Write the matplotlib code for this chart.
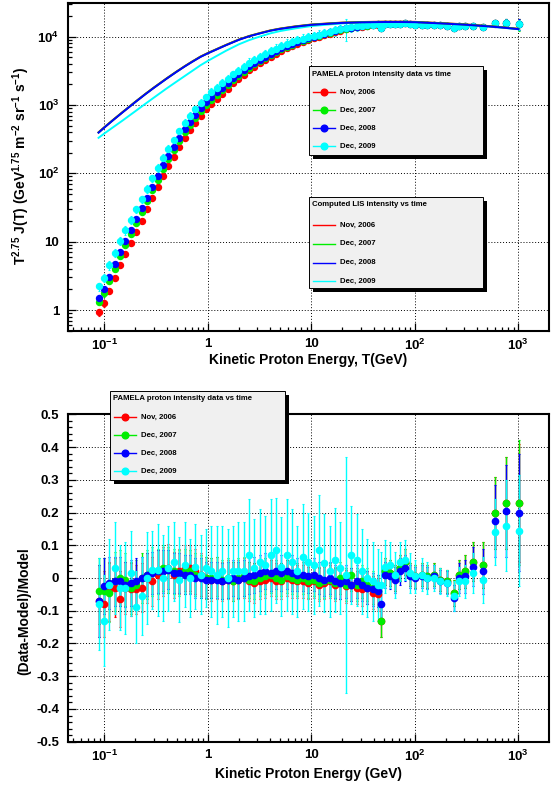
"""PAMELA proton intensity vs kinetic energy, computed LIS and fit residuals."""

import matplotlib.pyplot as plt
import numpy as np
from matplotlib.lines import Line2D
from matplotlib.patches import Rectangle
from matplotlib.ticker import FixedLocator, FuncFormatter, LogLocator, MultipleLocator

plt.rcParams["font.family"] = ["Liberation Sans", "DejaVu Sans"]
plt.rcParams["font.weight"] = "bold"
plt.rcParams["mathtext.fontset"] = "custom"
plt.rcParams["mathtext.rm"] = "Liberation Sans:bold"
plt.rcParams["mathtext.bf"] = "Liberation Sans:bold"
plt.rcParams["mathtext.it"] = "Liberation Sans:bold"
plt.rcParams["mathtext.default"] = "rm"
plt.rcParams["axes.unicode_minus"] = False

FIG_W, FIG_H = 553, 787

# ---- data -------------------------------------------------------------
labels = ["Nov, 2006", "Dec, 2007", "Dec, 2008", "Dec, 2009"]
colors = ["#ff0000", "#00ee00", "#0000ff", "#00ffff"]

energy = [
    0.088, 0.099, 0.112, 0.126, 0.142, 0.160, 0.180, 0.203, 0.229, 0.258,
    0.291, 0.328, 0.370, 0.417, 0.470, 0.530, 0.597, 0.672, 0.758, 0.854,
    0.963, 1.085, 1.223, 1.378, 1.553, 1.750, 1.973, 2.223, 2.506, 2.824,
    3.183, 3.587, 4.042, 4.556, 5.134, 5.786, 6.521, 7.349, 8.283, 9.335,
    10.52, 11.86, 13.36, 15.06, 16.97, 19.13, 21.56, 24.29, 27.38, 30.86,
    34.78, 39.19, 44.17,
    47.0, 52.0, 58.0, 65.0, 72.0, 81.0, 90.0, 101.0, 117.0, 131.0,
    152.0, 176.0, 205.0, 237.0, 265.0, 307.0, 365.0, 455.0, 590.0, 765.0, 1014.0,
]

# T^2.75 J(T) below 45 GeV, one list per period
flux_nov06 = [
    0.92, 1.25, 1.91, 2.93, 4.49, 6.55, 9.55, 13.9, 20.3, 29.6,
    43.2, 63.0, 91.6, 128, 175, 241, 331, 427, 548, 695,
    863, 1040, 1236, 1469, 1742, 2070, 2404, 2786, 3228, 3639,
    4083, 4571, 5086, 5636, 6252, 6808, 7345, 7925, 8472, 8995,
    9506, 10020, 10540, 11100, 11700, 12300, 12790, 13210, 13680, 14090,
    14390, 14690, 15000,
]
flux_dec07 = [
    1.30, 1.75, 2.65, 4.03, 6.13, 8.87, 12.8, 18.5, 26.9, 38.9,
    56.3, 81.2, 117, 161, 218, 297, 404, 515, 653, 819,
    1005, 1199, 1412, 1663, 1955, 2300, 2647, 3048, 3512, 3934,
    4389, 4882, 5396, 5946, 6558, 7121, 7653, 8234, 8769, 9283,
    9782, 10290, 10810, 11370, 11960, 12560, 13030, 13430, 13880, 14290,
    14560, 14840, 15150,
]
flux_dec08 = [
    1.50, 2.02, 3.07, 4.68, 7.12, 10.3, 14.8, 21.3, 30.7, 44.2,
    63.7, 91.6, 131, 181, 243, 330, 447, 567, 717, 894,
    1093, 1299, 1525, 1789, 2096, 2457, 2818, 3235, 3712, 4148,
    4610, 5115, 5635, 6188, 6802, 7359, 7889, 8464, 8989, 9481,
    9972, 10480, 11000, 11550, 12140, 12740, 13210, 13620, 14060, 14440,
    14720, 14980, 15300,
]
flux_dec09 = [
    2.21, 2.97, 4.50, 6.84, 10.4, 14.8, 21.1, 29.8, 42.3, 60.0,
    84.9, 120, 170, 231, 306, 410, 551, 694, 870, 1077,
    1305, 1537, 1789, 2080, 2413, 2803, 3180, 3625, 4132, 4581,
    5055, 5563, 6088, 6628, 7234, 7782, 8292, 8836, 9328, 9778,
    10250, 10740, 11250, 11790, 12370, 12940, 13380, 13750, 14170, 14530,
    14760, 15000, 15300,
]
# high-energy points (47 - 1000 GeV), common to all periods
flux_high = [
    13500, 15300, 15300, 15100, 15400, 15600, 15200, 15000, 15000, 14800,
    14800, 14600, 14400, 13600, 14200, 14100, 14400, 13900, 15700, 15900, 15200,
]

# computed LIS curves
lis_energy = [0.088, 0.1, 0.12, 0.15, 0.2, 0.25, 0.3, 0.4, 0.5, 0.6, 0.7, 0.85,
              1.0, 1.2, 1.5, 2.0, 2.5, 3.0, 4.0, 5.0, 7.0, 10.0, 15.0, 20.0, 30.0,
              50.0, 70.0, 100.0, 200.0, 300.0, 500.0, 700.0, 1000.0]
lis_nov06 = [399, 473, 597, 788, 1120, 1459, 1795, 2456, 3099, 3716, 4297, 5118,
             5768, 6527, 7590, 9108, 10221, 11031, 12346, 13156, 14168, 15079,
             15686, 16091, 16394, 16597, 16597, 16496, 15686, 15180, 14370, 13763,
             13055]
lis_dec07 = [396, 470, 594, 784, 1114, 1451, 1785, 2442, 3080, 3694, 4271, 5087,
             5734, 6489, 7545, 9054, 10161, 10965, 12273, 13078, 14084, 14989,
             15593, 15995, 16297, 16498, 16498, 16398, 15593, 15090, 14285, 13682,
             12977]
lis_dec08 = [394, 467, 590, 779, 1107, 1442, 1774, 2427, 3062, 3672, 4246, 5057,
             5700, 6450, 7500, 9000, 10100, 10900, 12200, 13000, 14000, 14900,
             15500, 15900, 16200, 16400, 16400, 16300, 15500, 15000, 14200, 13600,
             12900]
lis_dec09 = [331, 383, 466, 592, 814, 1045, 1277, 1747, 2205, 2662, 3121, 3818,
             4418, 5160, 6225, 7740, 8888, 9756, 11163, 12090, 13230, 14304,
             15113, 15614, 16038, 16351, 16350, 16250, 15450, 14950, 14150, 13550,
             12850]

# (Data-Model)/Model and its error
res_nov06 = [
    -0.07, -0.08, -0.04, -0.03, -0.065, -0.03, -0.035, -0.035, -0.03, 0.0,
    -0.01, 0.01, 0.02, 0.03, 0.01, 0.02, 0.03, 0.03, 0.02, 0.01,
    0.0, -0.005, 0.0, -0.01, -0.005, -0.01, -0.005, 0.0, -0.01, -0.015,
    -0.01, -0.005, 0.0, -0.01, -0.01, 0.0, -0.005, -0.01, -0.01, -0.015,
    -0.01, -0.02, -0.015, -0.01, -0.02, -0.015, -0.025, -0.02, -0.03, -0.035,
    -0.03, -0.045, -0.05,
    -0.13, 0.02, 0.015, 0.0, 0.03, 0.05, 0.01, 0.005, 0.01, 0.005,
    0.01, -0.005, -0.01, -0.045, 0.01, 0.02, 0.05, 0.04, 0.2, 0.23, 0.23,
]
res_dec07 = [
    -0.04, -0.04, -0.045, -0.01, 0.0, -0.005, -0.03, -0.02, 0.0, 0.01,
    0.02, 0.02, 0.03, 0.025, 0.02, 0.015, 0.02, 0.02, 0.01, 0.005,
    0.0, 0.0, 0.005, -0.005, 0.0, -0.01, 0.0, 0.005, -0.005, -0.01,
    0.0, 0.005, 0.01, 0.0, -0.005, 0.005, 0.0, -0.005, 0.0, -0.01,
    -0.005, -0.015, -0.01, -0.005, -0.015, 0.0, -0.02, 0.01, -0.02, -0.01,
    -0.02, -0.03, -0.04,
    -0.13, 0.02, 0.015, 0.0, 0.03, 0.05, 0.01, 0.005, 0.01, 0.005,
    0.01, -0.005, -0.01, -0.045, 0.01, 0.02, 0.05, 0.04, 0.2, 0.23, 0.23,
]
res_dec08 = [
    -0.07, -0.025, -0.015, -0.01, -0.01, -0.02, -0.015, -0.01, 0.0, 0.01,
    0.015, 0.02, 0.02, 0.025, 0.015, 0.015, 0.01, 0.01, 0.0, 0.0,
    -0.005, -0.005, -0.005, -0.01, -0.005, 0.0, -0.005, 0.0, 0.005, 0.01,
    0.015, 0.02, 0.015, 0.02, 0.015, 0.02, 0.015, 0.01, 0.01, 0.005,
    0.01, 0.0, -0.005, 0.0, -0.01, -0.015, -0.01, -0.02, -0.01, -0.02,
    -0.03, -0.035, -0.04,
    -0.08, 0.01, 0.005, -0.005, 0.02, 0.03, 0.005, 0.0, 0.005, 0.0,
    0.005, -0.01, -0.015, -0.06, 0.0, 0.005, 0.035, 0.02, 0.175, 0.205, 0.2,
]
res_dec09 = [
    -0.08, -0.13, -0.02, 0.03, -0.03, -0.03, 0.015, -0.09, -0.055, 0.0,
    0.025, 0.025, 0.0, 0.03, 0.05, -0.005, 0.04, 0.0, 0.035, 0.01,
    0.03, 0.02, 0.01, 0.02, 0.0, 0.02, 0.02, 0.02, 0.07, 0.03,
    0.05, 0.04, 0.07, 0.085, 0.035, 0.07, 0.05, 0.02, 0.065, 0.05,
    0.04, 0.085, 0.045, 0.02, 0.055, 0.03, 0.01, 0.07, 0.055, 0.02,
    0.0, -0.01, -0.02,
    -0.02, 0.035, 0.04, 0.01, 0.05, 0.055, 0.015, 0.005, 0.01, 0.0,
    0.0, -0.01, -0.015, -0.055, -0.01, -0.01, 0.015, -0.005, 0.14, 0.16, 0.145,
]
err_nov06 = [
    0.11, 0.10, 0.09, 0.09, 0.085, 0.08, 0.08, 0.075, 0.075, 0.075,
    0.075, 0.075, 0.075, 0.075, 0.07, 0.07, 0.07, 0.07, 0.07, 0.065,
    0.065, 0.065, 0.065, 0.06, 0.06, 0.06, 0.06, 0.06, 0.06, 0.06,
    0.055, 0.055, 0.055, 0.055, 0.055, 0.055, 0.055, 0.05, 0.05, 0.05,
    0.05, 0.05, 0.05, 0.05, 0.05, 0.05, 0.05, 0.05, 0.05, 0.05,
    0.05, 0.05, 0.05,
    0.05, 0.04, 0.04, 0.04, 0.04, 0.04, 0.035, 0.035, 0.035, 0.035,
    0.035, 0.035, 0.035, 0.04, 0.045, 0.05, 0.06, 0.07, 0.11, 0.14, 0.18,
]
err_dec07 = [
    0.10, 0.10, 0.09, 0.09, 0.085, 0.08, 0.08, 0.075, 0.075, 0.075,
    0.075, 0.07, 0.07, 0.07, 0.07, 0.07, 0.07, 0.065, 0.065, 0.065,
    0.065, 0.06, 0.06, 0.06, 0.06, 0.06, 0.06, 0.06, 0.055, 0.055,
    0.055, 0.055, 0.055, 0.055, 0.05, 0.05, 0.05, 0.05, 0.05, 0.05,
    0.05, 0.05, 0.05, 0.05, 0.05, 0.05, 0.05, 0.05, 0.05, 0.05,
    0.05, 0.05, 0.05,
    0.05, 0.04, 0.04, 0.04, 0.04, 0.04, 0.035, 0.035, 0.035, 0.035,
    0.035, 0.035, 0.035, 0.04, 0.045, 0.05, 0.06, 0.07, 0.11, 0.14, 0.19,
]
err_dec08 = [
    0.11, 0.085, 0.08, 0.075, 0.075, 0.07, 0.07, 0.07, 0.065, 0.065,
    0.065, 0.065, 0.065, 0.06, 0.06, 0.06, 0.06, 0.06, 0.06, 0.06,
    0.055, 0.055, 0.055, 0.055, 0.055, 0.055, 0.055, 0.055, 0.055, 0.055,
    0.055, 0.055, 0.055, 0.055, 0.055, 0.055, 0.055, 0.05, 0.05, 0.05,
    0.05, 0.05, 0.05, 0.05, 0.05, 0.05, 0.05, 0.05, 0.05, 0.05,
    0.05, 0.05, 0.05,
    0.05, 0.04, 0.04, 0.04, 0.04, 0.04, 0.035, 0.035, 0.035, 0.035,
    0.035, 0.035, 0.035, 0.04, 0.045, 0.05, 0.06, 0.07, 0.11, 0.14, 0.18,
]
err_dec09 = [
    0.14, 0.14, 0.14, 0.14, 0.13, 0.14, 0.13, 0.11, 0.12, 0.14,
    0.12, 0.14, 0.13, 0.13, 0.12, 0.13, 0.13, 0.12, 0.13, 0.12,
    0.12, 0.14, 0.15, 0.14, 0.15, 0.14, 0.15, 0.15, 0.17, 0.15,
    0.16, 0.15, 0.17, 0.16, 0.15, 0.17, 0.16, 0.14, 0.16, 0.15,
    0.15, 0.17, 0.15, 0.14, 0.16, 0.14, 0.36, 0.15, 0.14, 0.13,
    0.12, 0.12, 0.11,
    0.10, 0.08, 0.07, 0.07, 0.06, 0.06, 0.06, 0.05, 0.05, 0.05,
    0.04, 0.04, 0.04, 0.045, 0.045, 0.05, 0.06, 0.07, 0.10, 0.14, 0.17,
]

flux_low = [flux_nov06, flux_dec07, flux_dec08, flux_dec09]
lis = [lis_nov06, lis_dec07, lis_dec08, lis_dec09]
residuals = [res_nov06, res_dec07, res_dec08, res_dec09]
errors = [err_nov06, err_dec07, err_dec08, err_dec09]


def to_fig(x, y):
    """Pixel position (from top left) -> figure fraction."""
    return x / FIG_W, 1 - y / FIG_H


def style_axis(ax):
    """ROOT-like frame: thick box, inward ticks on left/bottom, dotted grid."""
    for spine in ax.spines.values():
        spine.set_linewidth(1.5)
    ax.tick_params(which="both", direction="in", top=False, right=False,
                   width=0.9, labelsize=9.5)
    ax.tick_params(which="major", length=6)
    ax.tick_params(which="minor", length=3)
    ax.tick_params(axis="x", pad=5)
    ax.tick_params(axis="y", pad=6)
    ax.grid(True, which="major", color="black", linestyle=(0, (1, 2)), linewidth=0.7)


def set_energy_axis(ax):
    ax.set_xscale("log")
    ax.set_xlim(0.0443, 1980)
    ax.xaxis.set_major_locator(FixedLocator([0.1, 1, 10, 100, 1000]))
    ax.xaxis.set_major_formatter(FuncFormatter(
        lambda v, p: {0.1: "$10^{-1}$", 1: "1", 10: "10", 100: "$10^{2}$",
                      1000: "$10^{3}$"}.get(round(v, 1), "")))
    ax.xaxis.set_minor_locator(LogLocator(base=10, subs=np.arange(2, 10)))
    ax.xaxis.set_minor_formatter(FuncFormatter(lambda v, p: ""))


def draw_legend(fig, left, top, width, height, title, title_y, rows_y, markers):
    """Boxed legend with a black drop shadow, positioned in figure pixels."""
    x0, y0 = to_fig(left + 4, top + height + 4)
    fig.add_artist(Rectangle((x0, y0), width / FIG_W, height / FIG_H,
                             transform=fig.transFigure, facecolor="black",
                             edgecolor="none", zorder=5))
    x0, y0 = to_fig(left, top + height)
    fig.add_artist(Rectangle((x0, y0), width / FIG_W, height / FIG_H,
                             transform=fig.transFigure, facecolor="#f0f0f0",
                             edgecolor="black", linewidth=0.7, zorder=6))
    tx, ty = to_fig(left + 3, title_y)
    fig.text(tx, ty, title, fontsize=5.6, fontweight="bold", va="center",
             ha="left", zorder=7)
    for label, color, ry in zip(labels, colors, rows_y):
        xa, yy = to_fig(left + 4, ry)
        xb, _ = to_fig(left + 26, ry)
        fig.add_artist(Line2D([xa, xb], [yy, yy], transform=fig.transFigure,
                              color=color, linewidth=1.0, zorder=7))
        if markers:
            xm, _ = to_fig(left + 15, ry)
            fig.add_artist(Line2D([xm], [yy], transform=fig.transFigure,
                                  marker="o", markersize=4.8, color=color,
                                  linestyle="none", zorder=8))
        xt, _ = to_fig(left + 31, ry)
        fig.text(xt, yy, label, fontsize=5.6, fontweight="bold", va="center",
                 ha="left", zorder=8)


def plot_intensity(ax):
    """Top panel: T^2.75 J(T) data points and LIS curves."""
    e = np.array(energy)
    for flux, err, color in zip(flux_low, errors, colors):
        values = np.array(flux + flux_high, dtype=float)
        ax.errorbar(e, values, yerr=values * np.array(err), fmt="o", color=color,
                    markersize=4.3, elinewidth=0.8, capsize=1.0, capthick=0.8,
                    zorder=3)
    # cyan curve first so the overlapping blue one stays on top
    for idx in (3, 0, 1, 2):
        ax.plot(lis_energy, lis[idx], color=colors[idx], linewidth=1.4, zorder=4)

    set_energy_axis(ax)
    ax.set_yscale("log")
    ax.set_ylim(0.493, 30800)
    ax.yaxis.set_major_locator(FixedLocator([1, 10, 100, 1000, 10000]))
    ax.yaxis.set_major_formatter(FuncFormatter(
        lambda v, p: {1: "1", 10: "10", 100: "$10^{2}$", 1000: "$10^{3}$",
                      10000: "$10^{4}$"}.get(int(round(v)), "")))
    ax.yaxis.set_minor_locator(LogLocator(base=10, subs=np.arange(2, 10)))
    ax.yaxis.set_minor_formatter(FuncFormatter(lambda v, p: ""))
    style_axis(ax)

    ax.set_xlabel("Kinetic Proton Energy, T(GeV)", fontsize=10, fontweight="bold",
                  va="top")
    ax.xaxis.set_label_coords(0.5, -0.068)
    ax.set_ylabel(r"T$^{2.75}$ J(T) (GeV$^{1.75}$ m$^{-2}$ sr$^{-1}$ s$^{-1}$)",
                  fontsize=10, fontweight="bold")
    ax.yaxis.set_label_coords(-0.075, 0.503)


def plot_residuals(ax):
    """Bottom panel: (Data-Model)/Model for each period."""
    for res, err, color in zip(residuals, errors, colors):
        ax.errorbar(energy, res, yerr=err, fmt="o", color=color, markersize=4.5,
                    elinewidth=1.0, capsize=1.0, capthick=0.8, zorder=3)

    set_energy_axis(ax)
    ax.set_ylim(-0.5, 0.5)
    ax.yaxis.set_major_locator(MultipleLocator(0.1))
    ax.yaxis.set_minor_locator(MultipleLocator(0.02))
    ax.yaxis.set_major_formatter(FuncFormatter(
        lambda v, p: "0" if abs(v) < 1e-9 else f"{v:.1f}"))
    style_axis(ax)

    ax.set_xlabel("Kinetic Proton Energy (GeV)", fontsize=10, fontweight="bold",
                  va="top")
    ax.xaxis.set_label_coords(0.5, -0.078)
    ax.set_ylabel("(Data-Model)/Model", fontsize=10, fontweight="bold")
    ax.yaxis.set_label_coords(-0.075, 0.40)


def main():
    fig = plt.figure(figsize=(FIG_W / 100, FIG_H / 100), dpi=100)

    left, right = 67.7, 549.0
    x0, y0 = to_fig(left, 331.0)
    x1, y1 = to_fig(right, 3.3)
    ax_top = fig.add_axes([x0, y0, x1 - x0, y1 - y0])
    x0, y0 = to_fig(left, 741.7)
    x1, y1 = to_fig(right, 414.3)
    ax_bot = fig.add_axes([x0, y0, x1 - x0, y1 - y0])

    plot_intensity(ax_top)
    plot_residuals(ax_bot)

    draw_legend(fig, 309, 66, 174, 89, "PAMELA proton intensity data vs time",
                74, [92, 110, 128, 146], markers=True)
    draw_legend(fig, 309, 197, 174, 91, "Computed LIS intensity vs time",
                205, [225, 243.7, 262.7, 281], markers=False)
    draw_legend(fig, 110, 391, 175, 89, "PAMELA proton intensity data vs time",
                399, [417, 435, 453, 471], markers=True)

    fig.savefig("out.png", dpi=100)


if __name__ == "__main__":
    main()
